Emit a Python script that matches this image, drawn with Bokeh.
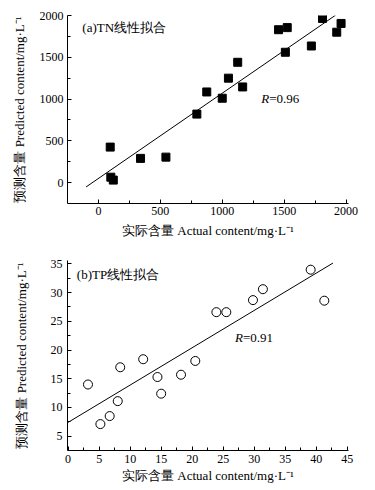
from bokeh.plotting import figure
from bokeh.layouts import column
from bokeh.models import Range1d, Label, FixedTicker
from bokeh.embed import file_html
from bokeh.resources import INLINE

# ---- data: (a) TN ----
tn_actual = [95, 100, 120, 340, 545, 795, 875, 1000, 1050, 1125, 1165,
             1455, 1525, 1510, 1720, 1810, 1925, 1960]
tn_pred = [425, 65, 30, 290, 305, 820, 1085, 1010, 1250, 1440, 1145,
           1830, 1855, 1560, 1635, 1965, 1800, 1905]
tn_fit_slope = 1.02
tn_fit_intercept = 50
tn_fit_x = [-100, 1915]
tn_r = "=0.96"
tn_title = "(a)TN线性拟合"
tn_xticks = [0, 500, 1000, 1500, 2000]
tn_yticks = [0, 500, 1000, 1500, 2000]

# ---- data: (b) TP ----
tp_actual = [3.2, 5.2, 6.7, 8.0, 8.4, 12.1, 14.4, 15.0, 18.2, 20.5,
             23.9, 25.5, 29.8, 31.4, 39.1, 41.3]
tp_pred = [14.0, 7.1, 8.5, 11.1, 17.0, 18.4, 15.3, 12.4, 15.7, 18.1,
           26.6, 26.6, 28.7, 30.6, 34.0, 28.6]
tp_fit_slope = 0.65
tp_fit_intercept = 7.4
tp_fit_x = [0, 42.7]
tp_r = "=0.91"
tp_title = "(b)TP线性拟合"
tp_xticks = [0, 5, 10, 15, 20, 25, 30, 35, 40, 45]
tp_yticks = [5, 10, 15, 20, 25, 30, 35]

x_label = "实际含量 Actual content/mg·L⁻¹"
y_label = "预测含量 Predicted content/mg·L⁻¹"

FONT = "Liberation Serif"


def minors(ticks):
    step = ticks[1] - ticks[0]
    return [t + step / 2 for t in ticks[:-1]]


def style(p, xt, yt):
    p.xgrid.visible = False
    p.ygrid.visible = False
    p.outline_line_color = None
    p.background_fill_color = "white"
    p.border_fill_color = "white"
    p.xaxis.ticker = FixedTicker(ticks=xt, minor_ticks=minors(xt))
    p.yaxis.ticker = FixedTicker(ticks=yt, minor_ticks=minors(yt))
    for ax in (p.xaxis[0], p.yaxis[0]):
        ax.axis_line_color = "black"
        ax.axis_line_width = 1
        ax.major_tick_line_color = "black"
        ax.minor_tick_line_color = "black"
        ax.major_tick_in = 4
        ax.major_tick_out = 0
        ax.minor_tick_in = 3
        ax.minor_tick_out = 0
        ax.major_label_text_font = FONT
        ax.major_label_text_font_size = "12px"
        ax.major_label_text_color = "black"
        ax.axis_label_text_font = FONT
        ax.axis_label_text_font_size = "13px"
        ax.axis_label_text_font_style = "normal"
        ax.axis_label_text_color = "black"
    p.xaxis.axis_label = x_label
    p.yaxis.axis_label = y_label


# ---- figure (a) ----
p1 = figure(width=375, height=245, output_backend="svg", toolbar_location=None,
            x_range=Range1d(-250, 2020), y_range=Range1d(-250, 2000),
            min_border_left=67, min_border_right=23, min_border_top=15,
            min_border_bottom=42)
style(p1, tn_xticks, tn_yticks)
p1.xaxis.major_label_standoff = 3
p1.xaxis.axis_label_standoff = 5
p1.yaxis.major_label_standoff = 4
p1.yaxis.axis_label_standoff = 10
p1.line(tn_fit_x, [tn_fit_slope * x + tn_fit_intercept for x in tn_fit_x],
        line_color="black", line_width=1)
p1.scatter(tn_actual, tn_pred, marker="square", size=8,
           fill_color="black", line_color="black")
p1.add_layout(Label(x=-130, y=1858, text=tn_title, text_font=FONT,
                    text_font_size="13px", text_baseline="middle",
                    text_color="black"))
p1.add_layout(Label(x=1315, y=1008, text="R", text_font=FONT,
                    text_font_style="italic", text_font_size="13px",
                    text_baseline="middle", text_color="black"))
p1.add_layout(Label(x=1315, y=1008, x_offset=8, text=tn_r,
                    text_font=FONT, text_font_size="13px",
                    text_baseline="middle", text_color="black"))

# ---- figure (b) ----
p2 = figure(width=375, height=245, output_backend="svg", toolbar_location=None,
            x_range=Range1d(-0.1, 45.2), y_range=Range1d(2.5, 35.6),
            min_border_left=64, min_border_right=27, min_border_top=15,
            min_border_bottom=40)
style(p2, tp_xticks, tp_yticks)
p2.xaxis.major_label_standoff = 4
p2.xaxis.axis_label_standoff = 2
p2.yaxis.major_label_standoff = 5
p2.yaxis.axis_label_standoff = 19
p2.line(tp_fit_x, [tp_fit_slope * x + tp_fit_intercept for x in tp_fit_x],
        line_color="black", line_width=1)
p2.scatter(tp_actual, tp_pred, marker="circle", size=9,
           fill_color="white", line_color="black", line_width=1)
p2.add_layout(Label(x=1.4, y=33.1, text=tp_title, text_font=FONT,
                    text_font_size="13px", text_baseline="middle",
                    text_color="black"))
p2.add_layout(Label(x=26.9, y=22.1, text="R", text_font=FONT,
                    text_font_style="italic", text_font_size="13px",
                    text_baseline="middle", text_color="black"))
p2.add_layout(Label(x=26.9, y=22.1, x_offset=8, text=tp_r,
                    text_font=FONT, text_font_size="13px",
                    text_baseline="middle", text_color="black"))

layout = column(p1, p2, spacing=0)
open("out.html", "w").write(file_html(layout, INLINE))
